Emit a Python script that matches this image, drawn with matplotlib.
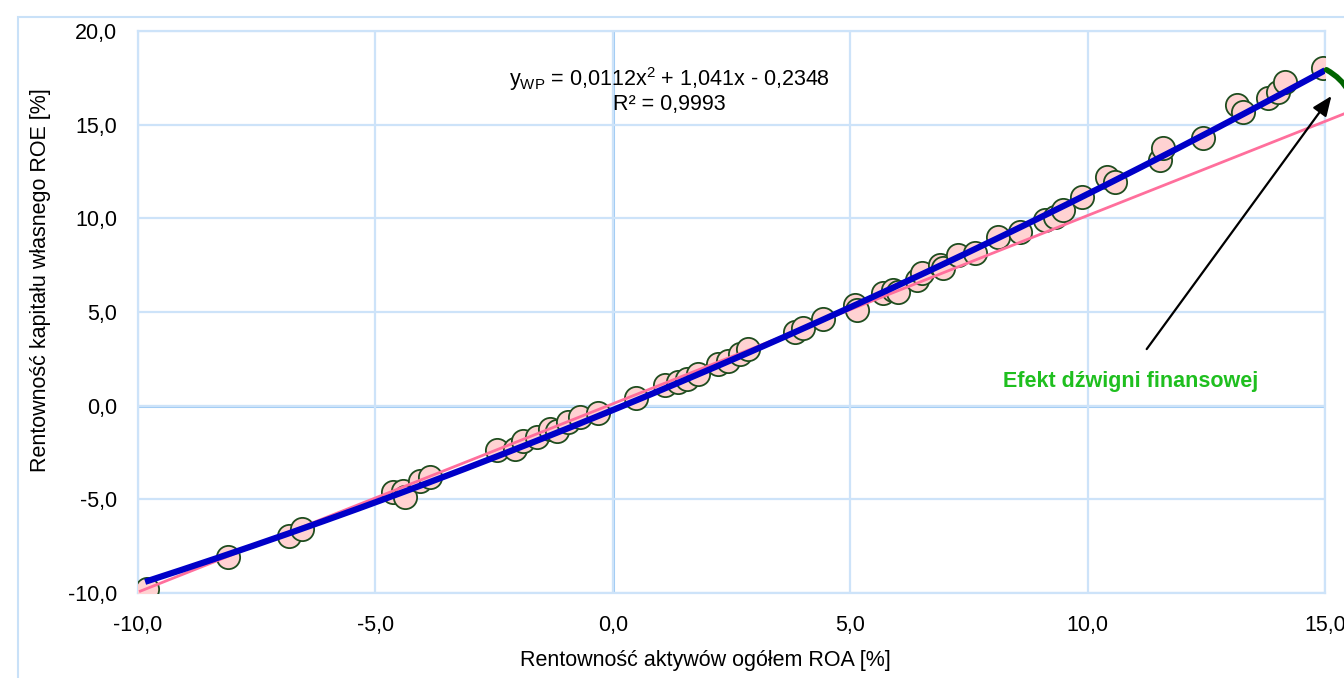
import matplotlib
matplotlib.use("Agg")
import matplotlib.pyplot as plt
from matplotlib.patches import Rectangle
import numpy as np

plt.rcParams["font.family"] = ["Liberation Sans", "DejaVu Sans"]
plt.rcParams["mathtext.fontset"] = "custom"
plt.rcParams["mathtext.rm"] = "Liberation Sans"
plt.rcParams["mathtext.it"] = "Liberation Sans"

roa = [-9.82, -8.10, -6.82, -6.54, -4.62, -4.41, -4.37, -4.06, -3.85, -2.44,
       -2.06, -1.89, -1.59, -1.32, -1.17, -0.94, -0.69, -0.31, 0.49, 1.10,
       1.38, 1.56, 1.80, 2.22, 2.43, 2.68, 2.85, 3.84, 4.01, 4.43,
       5.10, 5.15, 5.69, 5.91, 6.00, 6.41, 6.51, 6.89, 6.96, 7.27,
       7.63, 8.11, 8.58, 9.10, 9.32, 9.49, 9.89, 10.41, 10.58, 11.53,
       11.59, 12.43, 13.15, 13.28, 13.80, 14.01, 14.16, 14.96]
roe = [-9.76, -8.10, -6.95, -6.58, -4.60, -4.55, -4.87, -4.01, -3.80, -2.38,
       -2.30, -1.89, -1.68, -1.26, -1.36, -0.88, -0.62, -0.40, 0.40, 1.08,
       1.29, 1.40, 1.67, 2.20, 2.36, 2.74, 3.00, 3.95, 4.17, 4.61,
       5.40, 5.13, 6.04, 6.20, 6.09, 6.73, 7.10, 7.53, 7.37, 8.06,
       8.17, 9.02, 9.29, 9.93, 10.09, 10.47, 11.16, 12.23, 11.96, 13.14,
       13.78, 14.31, 16.06, 15.70, 16.45, 16.77, 17.30, 18.04]

# trend line y_WP = 0,0112x^2 + 1,041x - 0,2348
poly_coef = [0.0112, 1.041, -0.2348]
poly_range = [-9.85, 15.0]
# reference line (ROE ~ ROA)
ref_slope, ref_icpt = 1.005, 0.1
ref_range = [-9.95, 15.8]

fig = plt.figure(figsize=(13.44, 6.78), dpi=100)
ax = fig.add_axes([138 / 1344, 1 - 593 / 678, (1325 - 138) / 1344, (593 - 31) / 678])

# outer chart frame
fig.patches.append(Rectangle((18 / 1344, -0.2), 1.2, 1.2 - 17 / 678,
                             transform=fig.transFigure, fill=False,
                             edgecolor="#c9e1f8", linewidth=1.5))

grid_c = "#cde3f9"
ax.set_xlim(-10, 15)
ax.set_ylim(-10, 20)
ax.set_xticks(np.arange(-10, 16, 5))
ax.set_yticks(np.arange(-10, 21, 5))
ax.grid(True, color=grid_c, linewidth=1.6, zorder=0)
ax.axhline(0, color="#9fcbf4", linewidth=2.2, zorder=0.5)
ax.axvline(0, color="#9fcbf4", linewidth=2.2, zorder=0.5)
for s in ax.spines.values():
    s.set_color(grid_c)
    s.set_linewidth(1.6)
ax.tick_params(length=0, labelsize=15.5)
ax.tick_params(axis="x", pad=16)
ax.tick_params(axis="y", pad=15)
fmt = lambda v, p: f"{v:.1f}".replace(".", ",")
ax.xaxis.set_major_formatter(plt.FuncFormatter(fmt))
ax.yaxis.set_major_formatter(plt.FuncFormatter(fmt))

ax.scatter(roa, roe, s=280, facecolor="#ffd2d2", edgecolor="#1f4d1f",
           linewidth=1.3, zorder=3)

xr = np.linspace(ref_range[0], ref_range[1], 50)
ax.plot(xr, ref_slope * xr + ref_icpt, color="#ff6f9c", linewidth=2.0,
        zorder=4, clip_on=False)
xp = np.linspace(poly_range[0], poly_range[1], 200)
ax.plot(xp, np.polyval(poly_coef, xp), color="#0000c8", linewidth=4.5,
        zorder=5, solid_capstyle="butt")

ax.set_xlabel("Rentowność aktywów ogółem ROA [%]", fontsize=15.5)
ax.xaxis.set_label_coords(0.478, -0.102)
ax.set_ylabel("Rentowność kapitału własnego ROE [%]", fontsize=15.5)
ax.yaxis.set_label_coords(-0.073, 0.557)

ax.text(0.448, 0.914, r"y$_{\mathrm{WP}}$ = 0,0112x$^{2}$ + 1,041x - 0,2348",
        transform=ax.transAxes, ha="center", va="center", fontsize=15.5)
ax.text(0.448, 0.869, "R² = 0,9993", transform=ax.transAxes, ha="center",
        va="center", fontsize=15.5)

ax.text(10.9, 1.3, "Efekt dźwigni finansowej", color="#1fbf1f",
        fontsize=15.5, fontweight="bold", ha="center", va="center")
ax.annotate("", xy=(15.17, 16.65), xytext=(11.21, 2.9),
            arrowprops=dict(arrowstyle="-|>,head_length=1.2,head_width=0.5",
                            color="black", lw=1.6),
            annotation_clip=False, zorder=6)
ax.annotate("", xy=(15.6, 15.0), xytext=(14.98, 18.0),
            arrowprops=dict(arrowstyle="-", color="#006400", lw=4,
                            connectionstyle="arc3,rad=-0.35"),
            annotation_clip=False, zorder=6)

fig.savefig("out.png", dpi=100)
